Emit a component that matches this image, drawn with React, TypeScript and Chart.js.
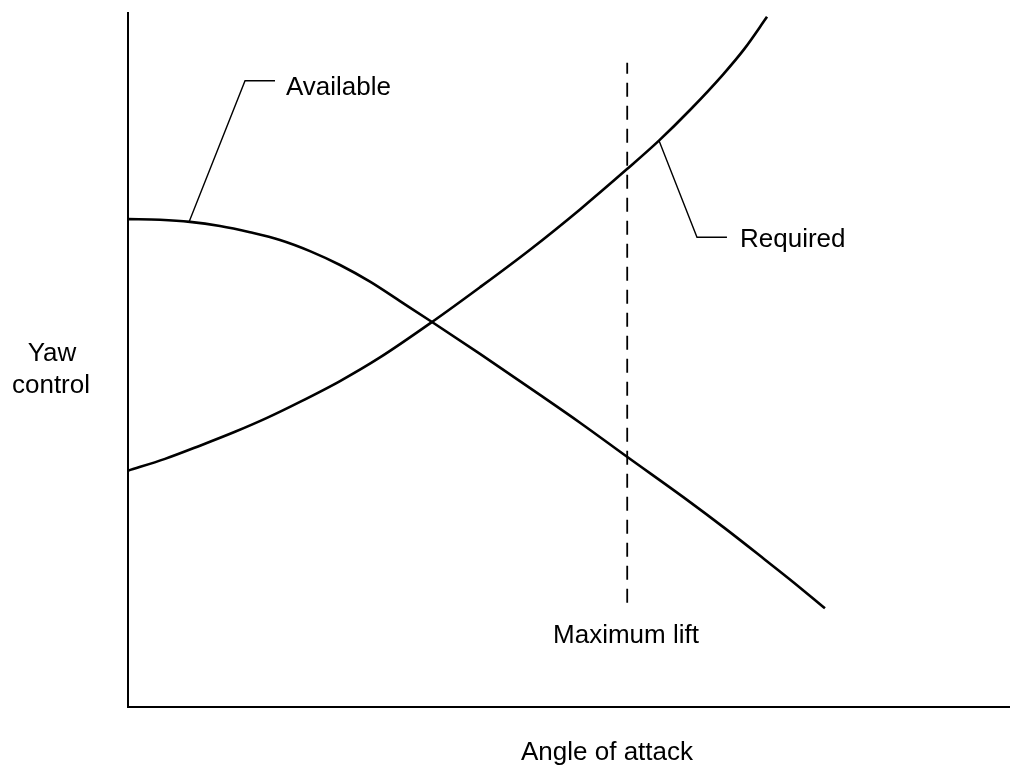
import React, { useEffect, useRef } from "react";
import { Chart, registerables } from "chart.js";

Chart.register(...registerables);

// Angle of attack (x) and yaw control (y), arbitrary units 0..100
const availableX = [0, 3.63, 7.03, 10.43, 13.83, 17.23, 20.63, 24.04, 27.44, 30.84, 34.47, 39.91, 46.71, 51.25, 56.58, 63.38, 67.69, 72.22, 75.4, 79.02];
const availableY = [70.2, 70.1, 69.8, 69.2, 68.3, 67.2, 65.6, 63.6, 61.2, 58.4, 55.4, 50.8, 44.9, 40.9, 36.0, 29.8, 25.7, 21.2, 18.0, 14.2];

const requiredX = [0, 4.2, 8.16, 12.13, 15.76, 19.5, 24.04, 28.57, 34.47, 39.91, 45.58, 51.25, 56.58, 60.2, 63.72, 67.46, 69.95, 72.45];
const requiredY = [34.0, 35.7, 37.6, 39.6, 41.6, 43.9, 46.9, 50.3, 55.4, 60.4, 65.8, 71.6, 77.4, 81.5, 85.9, 91.0, 94.8, 99.3];

const maxLiftX = [56.6, 56.6];
const maxLiftY = [15.0, 92.7];

const availableLeaderX = [6.92, 13.27, 16.67];
const availableLeaderY = [69.8, 90.1, 90.1];
const requiredLeaderX = [60.2, 64.51, 67.91];
const requiredLeaderY = [81.5, 67.6, 67.6];

// label texts and anchor points (data coords, left/center anchored)
const labelTexts = ["Available", "Required", "Maximum lift"];
const labelX = [17.91, 69.39, 48.19];
const labelY = [89.1, 67.2, 10.2];

const xTitle = "Angle of attack";
const yTitleLines = ["Yaw", "control"];

const toPts = (xs: number[], ys: number[]) => xs.map((x, i) => ({ x, y: ys[i] }));

const FONT = '26px "Liberation Sans", Arial, sans-serif';

export default function App() {
  const ref = useRef<HTMLCanvasElement | null>(null);

  useEffect(() => {
    document.body.style.margin = "0";
    const canvas = ref.current;
    if (!canvas) return;

    const decor = {
      id: "decor",
      afterDatasetsDraw(chart: any) {
        const { ctx, chartArea, scales } = chart;
        ctx.save();
        // axes
        ctx.strokeStyle = "#000";
        ctx.lineWidth = 2;
        ctx.beginPath();
        ctx.moveTo(chartArea.left, chartArea.top);
        ctx.lineTo(chartArea.left, chartArea.bottom);
        ctx.lineTo(chartArea.right, chartArea.bottom);
        ctx.stroke();

        ctx.fillStyle = "#000";
        ctx.font = FONT;
        ctx.textBaseline = "middle";
        ctx.textAlign = "left";
        labelTexts.forEach((t, i) => {
          ctx.fillText(t, scales.x.getPixelForValue(labelX[i]), scales.y.getPixelForValue(labelY[i]));
        });
        // axis titles
        ctx.textAlign = "center";
        ctx.fillText(xTitle, chartArea.left + 479, chartArea.bottom + 46);
        const midY = (chartArea.top + chartArea.bottom) / 2;
        ctx.fillText(yTitleLines[0], chartArea.left / 2 - 12, midY - 6);
        ctx.fillText(yTitleLines[1], chartArea.left / 2 - 13, midY + 26);
        ctx.restore();
      },
    };

    const chart = new Chart(canvas, {
      type: "line",
      data: {
        datasets: [
          {
            label: "Available",
            data: toPts(availableX, availableY),
            borderColor: "#000",
            borderWidth: 2.6,
            pointRadius: 0,
            cubicInterpolationMode: "monotone",
          },
          {
            label: "Required",
            data: toPts(requiredX, requiredY),
            borderColor: "#000",
            borderWidth: 2.6,
            pointRadius: 0,
            cubicInterpolationMode: "monotone",
          },
          {
            label: "Maximum lift",
            data: toPts(maxLiftX, maxLiftY),
            borderColor: "#000",
            borderWidth: 1.8,
            borderDash: [14, 9],
            pointRadius: 0,
          },
          {
            label: "Available leader",
            data: toPts(availableLeaderX, availableLeaderY),
            borderColor: "#000",
            borderWidth: 1.4,
            pointRadius: 0,
            tension: 0,
          },
          {
            label: "Required leader",
            data: toPts(requiredLeaderX, requiredLeaderY),
            borderColor: "#000",
            borderWidth: 1.4,
            pointRadius: 0,
            tension: 0,
          },
        ],
      },
      options: {
        responsive: false,
        animation: false,
        clip: false as any,
        layout: { padding: { left: 128, top: 12, right: 0, bottom: 62 } },
        plugins: { legend: { display: false }, tooltip: { enabled: false } },
        scales: {
          x: { type: "linear", min: 0, max: 100, display: false },
          y: { type: "linear", min: 0, max: 100, display: false },
        },
      },
      plugins: [decor],
    });

    return () => chart.destroy();
  }, []);

  return (
    <div style={{ position: "fixed", left: 0, top: 0, width: 1010, height: 769, background: "#fff" }}>
      <canvas ref={ref} width={1010} height={769} />
    </div>
  );
}
